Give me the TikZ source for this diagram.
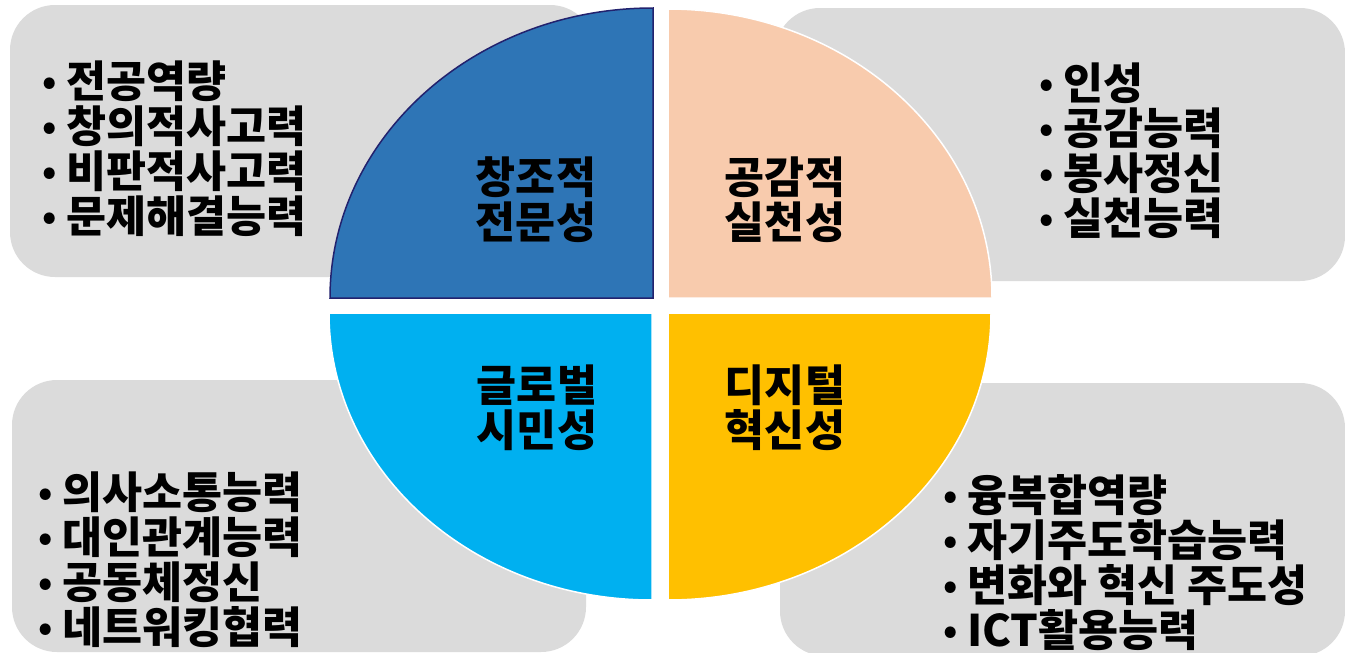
\documentclass[tikz,border=0pt]{standalone}
\usepackage{fontspec}
\setmainfont{Noto Sans CJK KR}
\newcommand{\bul}{\makebox[25pt][l]{\hspace{1pt}\raisebox{2.5pt}{\fontsize{36}{36}\selectfont •}}}
\definecolor{boxgray}{HTML}{DBDBDB}
\definecolor{qblue}{HTML}{2E75B6}
\definecolor{qnavy}{HTML}{22226E}
\definecolor{qpeach}{HTML}{F8CBAD}
\definecolor{qcyan}{HTML}{00B0F0}
\definecolor{qyellow}{HTML}{FFC000}
\begin{document}
\begin{tikzpicture}[x=1pt,y=-1pt,
  graybox/.style={fill=boxgray, rounded corners=45pt},
  item/.style={anchor=west, inner sep=0pt, font=\fontsize{43.5}{45}\selectfont\bfseries},
  label/.style={align=center, inner sep=0pt, font=\fontsize{43.5}{45}\selectfont\bfseries}]
\useasboundingbox (0,0) rectangle (1345,653);
\fill[white] (0,0) rectangle (1345,653);
% gray boxes
\fill[graybox] (10,5) rectangle (595,277);
\fill[graybox] (775,8) rectangle (1345,281);
\fill[graybox] (12,380) rectangle (586,652);
\fill[graybox] (780,383) rectangle (1345,656);
% quadrants
\filldraw[fill=qblue, draw=qnavy, line width=1.5pt]
  (653,298) -- (330,298) arc[start angle=180, end angle=270, x radius=323, y radius=290] -- cycle;
\filldraw[fill=qpeach, draw=white, line width=1.5pt]
  (668,298) -- (668,9) arc[start angle=270, end angle=360, x radius=324, y radius=289] -- cycle;
\filldraw[fill=qcyan, draw=white, line width=1.5pt]
  (652,313) -- (329,313) arc[start angle=180, end angle=90, x radius=323, y radius=287] -- cycle;
\filldraw[fill=qyellow, draw=white, line width=1.5pt]
  (668,313) -- (668,600) arc[start angle=90, end angle=0, x radius=323, y radius=287] -- cycle;
% centre labels
\node[label] (c1) at (536,200) {창조적\\전문성};
\node[label] (c2) at (785,200) {공감적\\실천성};
\node[label] (c3) at (537,408) {글로벌\\시민성};
\node[label] (c4) at (785,408) {디지털\\혁신성};
% top-left list
\node[item] (a1) at (41,81) {\bul 전공역량};
\node[item] (a2) at (41,126) {\bul 창의적사고력};
\node[item] (a3) at (41,171) {\bul 비판적사고력};
\node[item] (a4) at (41,216) {\bul 문제해결능력};
% top-right list
\node[item] (b1) at (1038,83) {\bul 인성};
\node[item] (b2) at (1038,128) {\bul 공감능력};
\node[item] (b3) at (1038,173) {\bul 봉사정신};
\node[item] (b4) at (1038,218) {\bul 실천능력};
% bottom-left list
\node[item] (d1) at (37,492) {\bul 의사소통능력};
\node[item] (d2) at (37,537) {\bul 대인관계능력};
\node[item] (d3) at (37,582) {\bul 공동체정신};
\node[item] (d4) at (37,627) {\bul 네트워킹협력};
% bottom-right list
\node[item] (e1) at (942,495) {\bul 융복합역량};
\node[item] (e2) at (942,540) {\bul 자기주도학습능력};
\node[item] (e3) at (942,585) {\bul 변화와 혁신 주도성};
\node[item] (e4) at (942,630) {\bul ICT활용능력};
\end{tikzpicture}
\end{document}
